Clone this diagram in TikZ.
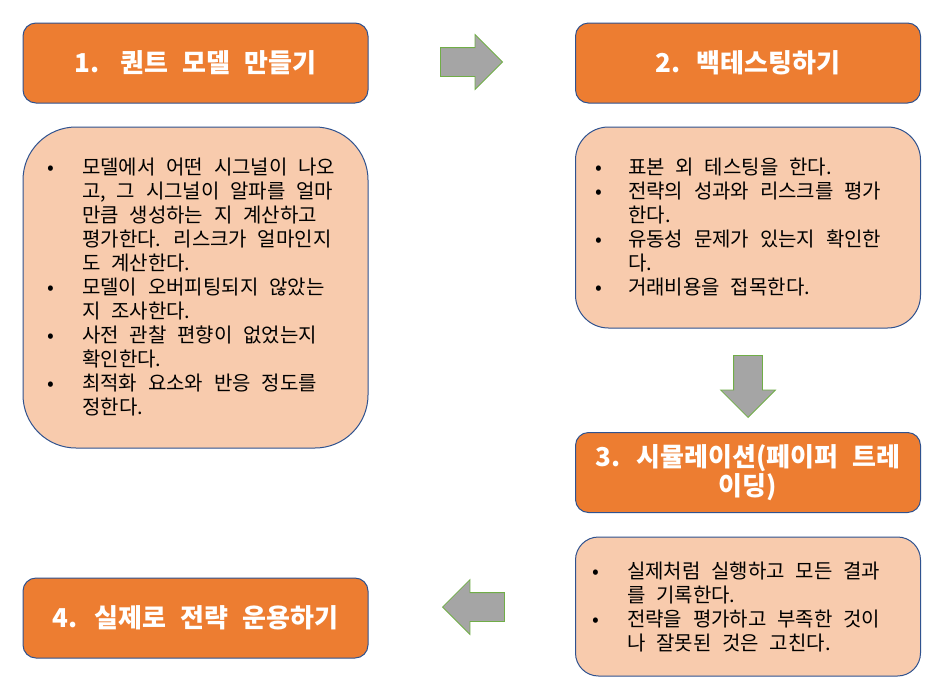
\documentclass[tikz,border=0pt]{standalone}
\usepackage{fontspec}
\setmainfont{Noto Sans CJK KR}[WordSpace=2.4]
\usetikzlibrary{shapes.arrows}
\definecolor{stepfill}{RGB}{237,125,49}
\definecolor{notefill}{RGB}{248,203,173}
\definecolor{edgeblue}{RGB}{47,82,143}
\definecolor{arrowfill}{RGB}{165,165,165}
\definecolor{arrowedge}{RGB}{112,173,71}

\newcommand{\bul}{\makebox[0pt]{•}}

\begin{document}
\begin{tikzpicture}[x=1pt, y=-1pt,
  stephead/.style={draw=edgeblue, fill=stepfill, line width=1pt, rounded corners=13pt,
    minimum width=345pt, minimum height=80pt, inner sep=0pt, text=white,
    font=\fontsize{26}{29}\selectfont\bfseries, align=center},
  notebox/.style={draw=edgeblue, fill=notefill, line width=1pt, minimum width=345pt, inner sep=0pt},
  notetext/.style={anchor=north west, inner sep=0pt, font=\fontsize{20}{24}\selectfont},
  flowarrow/.style={single arrow, draw=arrowedge, fill=arrowfill, line width=0.8pt,
    minimum height=62pt, single arrow head extend=13pt, inner sep=14pt}]

\useasboundingbox[fill=white] (0,0) rectangle (933,686);

%% step headers
\node[stephead] (h1) at (195.5,63) {1.\hspace{0.8em}퀀트 모델 만들기};
\node[stephead] (h2) at (748,63) {2. 백테스팅하기};
\node[stephead] (h3) at (748,472.5) {3. 시뮬레이션(페이퍼 트레\\이딩)};
\node[stephead] (h4) at (195.5,618) {4. 실제로 전략 운용하기};

%% note boxes
\node[notebox, minimum height=321pt, rounded corners=53pt] (b1) at (195.5,287.5) {};
\node[notebox, minimum height=201pt, rounded corners=33pt] (b2) at (748,227.5) {};
\node[notebox, minimum height=139pt, rounded corners=23pt] (b3) at (748,606.5) {};

\node[notetext] (t1) at (51,157) {\begin{tabular}{@{}l@{\hspace{31pt}}l@{}}
  \bul & 모델에서 어떤 시그널이 나오\\
       & 고, 그 시그널이 알파를 얼마\\
       & 만큼 생성하는 지 계산하고\\
       & 평가한다. 리스크가 얼마인지\\
       & 도 계산한다.\\
  \bul & 모델이 오버피팅되지 않았는\\
       & 지 조사한다.\\
  \bul & 사전 관찰 편향이 없었는지\\
       & 확인한다.\\
  \bul & 최적화 요소와 반응 정도를\\
       & 정한다.
\end{tabular}};

\node[notetext] (t2) at (599,157) {\begin{tabular}{@{}l@{\hspace{29pt}}l@{}}
  \bul & 표본 외 테스팅을 한다.\\
  \bul & 전략의 성과와 리스크를 평가\\
       & 한다.\\
  \bul & 유동성 문제가 있는지 확인한\\
       & 다.\\
  \bul & 거래비용을 접목한다.
\end{tabular}};

\node[notetext] (t3) at (596,561) {\begin{tabular}{@{}l@{\hspace{31pt}}l@{}}
  \bul & 실제처럼 실행하고 모든 결과\\
       & 를 기록한다.\\
  \bul & 전략을 평가하고 부족한 것이\\
       & 나 잘못된 것은 고친다.
\end{tabular}};

%% block arrows between the steps
\node[flowarrow, anchor=tip] (a12) at (503,62) {};
\node[flowarrow, shape border rotate=270, anchor=tip] (a23) at (748,418) {};
\node[flowarrow, shape border rotate=180, anchor=tip] (a34) at (442,607) {};

\end{tikzpicture}
\end{document}
